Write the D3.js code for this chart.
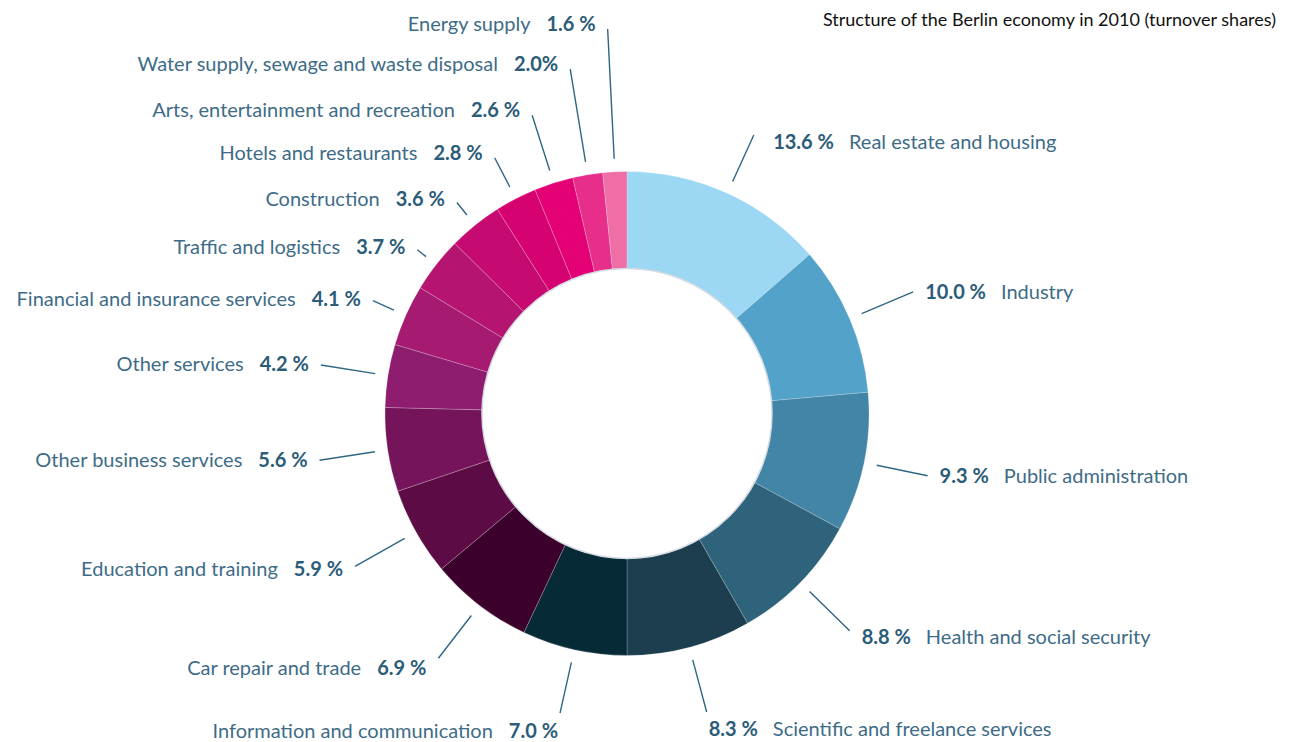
<!DOCTYPE html>
<html>
<head>
<meta charset="utf-8">
<script src="https://cdn.jsdelivr.net/npm/d3@7"></script>
<style>
  body { margin: 0; background: #fff; }
  svg { display: block; font-family: Lato, "Open Sans", sans-serif; }
  .lab { fill: #3e6c87; font-size: 20px; }
  .num { fill: #2b5c78; font-weight: bold; }
  .title { font-size: 18px; fill: #111; }
</style>
</head>
<body>
<figure id="chart" style="margin:0"></figure>
<script>
// data, clockwise from 12 o'clock
const categories = [
  "Real estate and housing", "Industry", "Public administration",
  "Health and social security", "Scientific and freelance services",
  "Information and communication", "Car repair and trade",
  "Education and training", "Other business services", "Other services",
  "Financial and insurance services", "Traffic and logistics", "Construction",
  "Hotels and restaurants", "Arts, entertainment and recreation",
  "Water supply, sewage and waste disposal", "Energy supply"
];
const shares = [13.6, 10.0, 9.3, 8.8, 8.3, 7.0, 6.9, 5.9, 5.6, 4.2, 4.1, 3.7, 3.6, 2.8, 2.6, 2.0, 1.6];
const shareLabels = ["13.6 %", "10.0 %", "9.3 %", "8.8 %", "8.3 %", "7.0 %", "6.9 %", "5.9 %",
  "5.6 %", "4.2 %", "4.1 %", "3.7 %", "3.6 %", "2.8 %", "2.6 %", "2.0%", "1.6 %"];

const colors = ["#9cd7f3", "#52a2ca", "#4285a6", "#2f637b", "#1c3e4e", "#072a37",
  "#3c002c", "#5c0b45", "#75145b", "#8e1c6f", "#a61a72", "#b51470", "#c60a71",
  "#d60272", "#e40176", "#e72e8a", "#ee6ea5"];

// where each leader line ends (radius), to keep the small labels apart
const leaderEnd = [306, 311, 307, 311, 309, 307, 309, 312, 311, 310, 278, 266, 271, 288, 313, 349, 385];

let dimensions = {
  width: 1294,
  height: 742,
  cx: 627,
  cy: 413.5,
  outer: 242,
  inner: 145,
  leaderStart: 255
};

const svg = d3.select("figure#chart")
  .append("svg")
  .attr("width", dimensions.width)
  .attr("height", dimensions.height);

svg.append("text")
  .attr("class", "title")
  .attr("x", 1276)
  .attr("y", 26)
  .attr("text-anchor", "end")
  .text("Structure of the Berlin economy in 2010 (turnover shares)");

const g = svg.append("g")
  .attr("transform", `translate(${dimensions.cx},${dimensions.cy})`);

const pie = d3.pie().sort(null).value(d => d)(shares);
const arc = d3.arc().innerRadius(dimensions.inner).outerRadius(dimensions.outer);

g.selectAll("path.slice")
  .data(pie)
  .enter()
  .append("path")
  .attr("class", "slice")
  .attr("d", arc)
  .attr("fill", (d, i) => colors[i])
  .attr("stroke", "rgba(255,255,255,0.35)")
  .attr("stroke-width", 0.6);

// soft grey edge on the hole
g.append("circle")
  .attr("r", dimensions.inner)
  .attr("fill", "#fff")
  .attr("stroke", "#d5dbe2")
  .attr("stroke-width", 1.5);

const polar = (r, a) => [r * Math.sin(a), -r * Math.cos(a)];

const labels = g.selectAll("g.label")
  .data(pie)
  .enter()
  .append("g")
  .attr("class", "label");

labels.append("line")
  .attr("x1", d => polar(dimensions.leaderStart, (d.startAngle + d.endAngle) / 2)[0])
  .attr("y1", d => polar(dimensions.leaderStart, (d.startAngle + d.endAngle) / 2)[1])
  .attr("x2", (d, i) => polar(leaderEnd[i], (d.startAngle + d.endAngle) / 2)[0])
  .attr("y2", (d, i) => polar(leaderEnd[i], (d.startAngle + d.endAngle) / 2)[1])
  .attr("stroke", "#2f6684")
  .attr("stroke-width", 1.4);

labels.each(function(d, i) {
  const a = (d.startAngle + d.endAngle) / 2;
  const [ex, ey] = polar(leaderEnd[i], a);
  const right = Math.sin(a) >= 0;
  const c = Math.cos(a);
  const top = Math.max(0, c - 0.5) * 2; // only the label near 1 o'clock
  let xoff = -c > 0.9 ? 2 : 12;
  let dy = 19 * Math.pow(Math.max(0, -c), 3);
  if (right) { xoff += 9 * top; dy += 8 * top; }
  else { dy -= 5 * Math.max(0, c); }
  const t = d3.select(this).append("text")
    .attr("class", "lab")
    .attr("x", ex + (right ? xoff : -xoff))
    .attr("y", ey + dy + 7)
    .attr("text-anchor", right ? "start" : "end");
  if (right) {
    t.append("tspan").attr("class", "num").text(shareLabels[i]);
    t.append("tspan").attr("dx", 15).text(categories[i]);
  } else {
    t.append("tspan").text(categories[i]);
    t.append("tspan").attr("class", "num").attr("dx", 16).text(shareLabels[i]);
  }
});
</script>
</body>
</html>
